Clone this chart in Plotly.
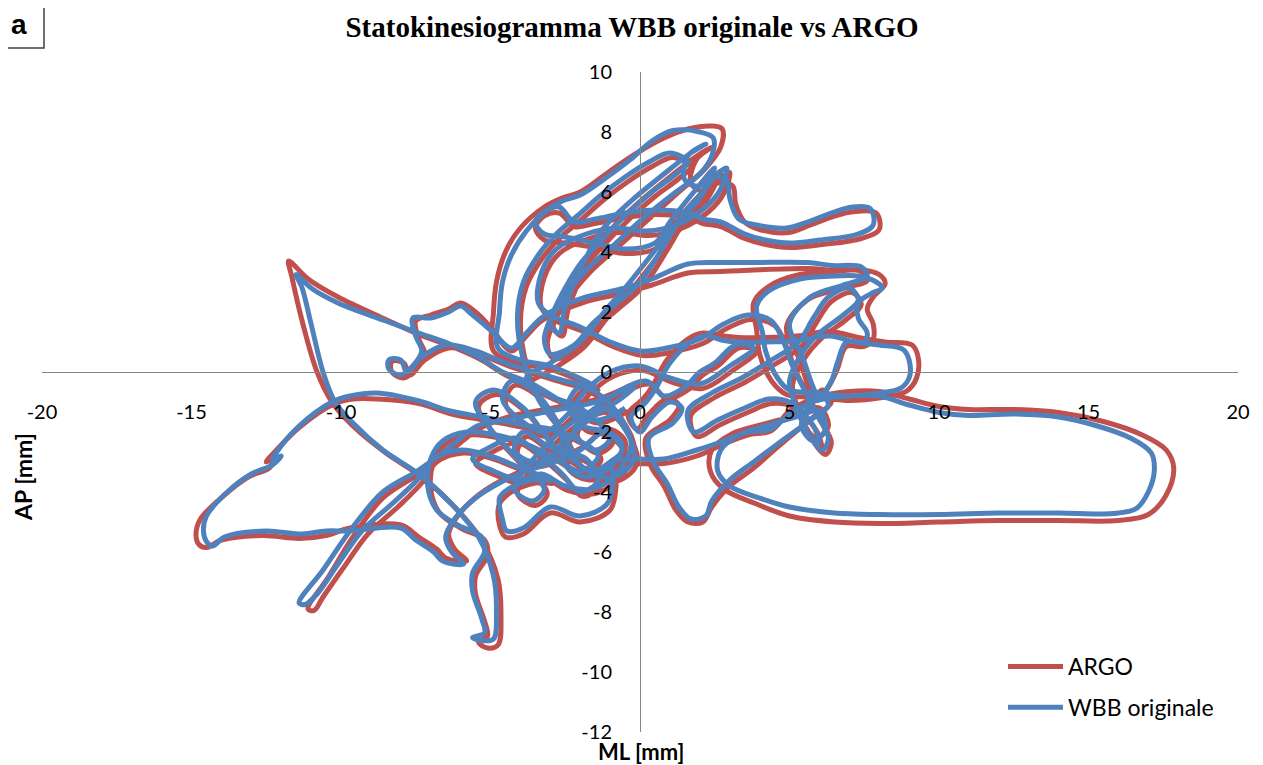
import plotly.graph_objects as go

# ---- data: ML (x) / AP (y) trajectories in mm ----
wbb_points = [
    (-0.5,-1.2),(-1.5,-1.6),(-2.6,-1.0),(-3.6,-0.4),(-4.6,0.0),(-5.4,0.5),(-6.4,0.95),(-7.4,1.3),(-8.5,1.7),(-10.1,2.3),
    (-11.0,2.8),(-11.5,3.25),(-11.3,2.8),(-11.0,1.6),(-10.6,0.0),(-10.2,-1.0),(-9.6,-1.7),(-8.6,-2.6),(-7.4,-3.4),(-6.3,-4.4),
    (-5.4,-5.5),(-4.9,-6.8),(-4.8,-8.0),(-4.9,-8.9),(-5.3,-8.95),(-5.6,-8.85),(-5.2,-8.7),(-5.3,-8.2),(-5.6,-7.3),(-5.6,-6.7),
    (-5.2,-6.0),(-5.3,-5.5),(-6.1,-5.1),(-6.8,-4.6),(-7.1,-3.8),(-7.0,-2.9),(-6.6,-2.3),(-5.8,-2.0),(-4.8,-2.1),(-3.8,-2.4),
    (-2.8,-2.9),(-2.0,-3.3),(-1.4,-2.8),(-2.2,-2.2),(-3.0,-1.9),(-3.7,-1.8),
    (-5.25,-1.5),(-6.35,-1.3),(-7.45,-0.95),(-8.8,-0.7),(-9.7,-0.8),(-10.3,-1.0),(-11.4,-1.8),(-12.1,-2.6),(-12.3,-2.95),(-12.0,-2.8),
    (-12.3,-3.1),(-13.0,-3.4),(-13.8,-4.0),(-14.5,-4.8),(-14.6,-5.3),(-14.5,-5.65),(-14.3,-5.8),(-13.9,-5.5),(-12.5,-5.3),(-11.4,-5.4),
    (-10.5,-5.3),(-9.7,-5.3),(-8.0,-5.2),(-7.5,-5.6),(-6.9,-6.0),(-6.6,-6.3),(-5.9,-6.4),(-6.3,-6.0),(-6.5,-5.5),(-6.2,-4.9),
    (-5.5,-4.2),(-4.7,-3.7),(-3.8,-3.3),(-2.9,-3.0),
    (-2.0,-2.6),(-1.2,-2.0),(-0.6,-2.4),(-0.9,-3.1),(-1.8,-3.5),(-2.5,-3.1),(-2.4,-2.3),(-1.6,-1.5),(-0.8,-1.0),(-0.2,-0.5),
    (-1.5,-1.0),(-3.0,-1.3),(-4.5,-1.6),(-5.45,-1.8),(-6.35,-2.5),(-7.45,-3.3),(-8.6,-4.0),(-9.7,-5.3),(-10.6,-6.6),(-11.4,-7.7),
    (-11.2,-7.75),(-10.8,-7.4),(-10.1,-6.4),(-9.3,-5.3),(-8.3,-4.4),(-7.45,-3.6),(-6.9,-2.9),(-6.0,-2.6),(-5.0,-2.8),(-4.0,-3.2),
    (-3.0,-3.6),
    (-3.6,-3.6),(-4.4,-3.9),(-4.7,-4.2),(-4.6,-4.9),(-4.45,-5.3),(-3.9,-5.2),(-3.0,-4.5),(-2.0,-4.8),(-1.1,-4.4),(-0.9,-3.7),
    (-0.9,-3.0),(-0.3,-2.9),(0.8,-2.9),(1.9,-2.6),(2.8,-2.3),(3.6,-2.0),(4.4,-1.9),
    (5.0,-1.4),(5.9,-0.95),(7.0,-0.8),(8.0,-0.8),(9.0,-1.1),(10.0,-1.35),(11.0,-1.45),(12.5,-1.4),(14.0,-1.5),(15.3,-1.8),
    (16.4,-2.2),(17.1,-2.7),(17.2,-3.3),(17.0,-4.0),(16.6,-4.55),(15.8,-4.72),(14.0,-4.7),(12.0,-4.7),(10.0,-4.75),(8.0,-4.75),
    (6.5,-4.7),(5.0,-4.5),(4.0,-4.2),(3.0,-3.8),(2.6,-3.3),(2.7,-2.6),(3.3,-2.1),(4.2,-1.8),(5.2,-1.5),(6.0,-1.3),
    (6.2,-1.9),(5.8,-2.3),(5.4,-1.8),(5.6,-1.2),(6.0,-0.7),(6.3,-1.1),(5.7,-1.6),
    (4.6,-2.4),(3.8,-3.0),(3.0,-3.6),(2.4,-4.3),(2.2,-4.8),(1.7,-4.9),(1.3,-4.5),(0.9,-3.7),(0.45,-3.0),(0.3,-2.2),
    (1.1,-1.7),(1.4,-1.2),(1.0,-1.0),(0.4,-1.5),(0.0,-2.0),(-0.3,-1.5),(0.2,-1.0),(0.5,-0.6),
    (1.0,0.3),(1.7,1.0),(2.2,1.2),(2.8,1.05),(3.3,1.0),(4.2,1.0),(5.25,1.05),(6.35,1.2),(7.2,1.0),(8.0,0.9),
    (8.8,0.75),(9.0,0.4),(9.0,-0.2),(8.7,-0.55),(8.0,-0.7),(7.0,-0.8),(6.0,-0.7),(5.0,-0.6),(4.6,-0.2),(4.2,0.7),
    (4.1,1.3),(3.9,2.2),(4.3,2.7),(5.35,3.1),(6.5,3.2),(7.3,3.2),(7.9,3.0),(8.1,2.8),(7.7,2.6),(7.3,2.3),
    (7.3,1.8),(7.6,1.3),(7.5,1.0),(6.9,1.0),(6.6,0.3),(6.4,-0.3),(6.0,-0.8),
    (5.4,0.6),(5.0,1.6),(5.7,2.5),(6.8,2.9),(7.6,3.2),(7.4,3.5),(6.4,3.55),(5.6,3.65),(3.8,3.65),(2.7,3.65),
    (1.6,3.6),(0.4,3.1),(-0.7,2.75),(-1.8,2.5),(-2.6,2.2),(-3.3,1.8),(-3.8,1.3),(-4.3,0.8),
    (-5.0,1.4),(-5.6,1.9),(-6.0,2.2),(-6.4,2.0),(-7.0,1.8),(-7.6,1.8),(-7.5,1.2),(-7.3,0.7),(-7.6,0.2),(-8.0,-0.1),
    (-8.4,0.1),(-8.4,0.4),(-8.0,0.4),(-7.8,0.0),(-7.3,0.5),(-6.5,0.9),(-5.5,0.7),(-4.5,0.3),(-3.5,0.0),(-2.5,-0.3),
    (-1.5,-0.5),
    (-3.0,0.2),(-4.0,0.4),(-4.75,0.8),(-4.7,2.0),(-4.6,3.0),(-4.3,3.9),(-3.8,4.7),(-3.1,5.4),(-2.6,5.7),(-2.0,5.9),
    (-1.1,6.5),(-0.3,7.1),(0.4,7.7),(1.1,8.05),(2.0,8.0),(2.45,7.8),(2.4,7.2),(2.0,6.6),(1.2,6.0),(0.2,5.2),
    (-0.8,4.3),(-1.8,3.4),(-2.6,2.4),(-3.0,1.6),(-2.7,1.3),(-2.5,2.2),(-1.9,3.6),(-1.3,4.7),(-0.3,5.7),(0.8,6.6),
    (1.7,7.3),(2.2,7.6),(1.6,7.2),(1.5,6.4),(2.0,6.2),(2.4,6.5),(2.9,6.4),(3.0,5.8),(3.3,5.1),(3.9,4.9),
    (4.9,4.8),(5.6,5.0),(6.4,5.3),(7.1,5.5),(7.7,5.45),(7.8,4.9),(7.3,4.6),(6.0,4.4),(5.0,4.3),(4.2,4.4),
    (3.5,4.6),(2.7,5.0),(2.1,5.1),(1.6,5.3),(0.5,5.4),(-0.5,5.3),(-1.5,5.1),(-2.2,5.0),(-2.7,5.5),(-3.1,5.4),
    (-3.5,5.0),(-3.2,4.6),(-2.5,4.5),(-1.5,4.3),(-0.5,4.1),(0.5,4.3),(1.0,5.0),(1.8,6.0),(2.5,6.8),(2.0,5.8),
    (1.0,4.7),(0.3,3.8),(-0.5,2.8),(-1.2,2.0),(-2.0,1.0),(-3.0,0.3),(-3.8,-0.2),
    (-3.0,-0.8),(-2.0,-1.2),(-1.0,-2.2),(-1.5,-2.6),(-2.2,-2.0),(-1.5,-1.2),(0.2,-0.3),(0.8,-0.8),(1.5,-0.5),(2.0,0.0),
    (2.5,0.3),(3.2,0.9),(3.8,0.8),
    (3.0,0.2),(2.0,-0.4),(1.0,-0.2),(0.0,0.2),(-1.0,0.0),(-1.8,-0.6),(-2.4,-1.4),(-3.2,-2.0),(-4.0,-1.6),(-4.6,-0.9),
    (-4.3,-0.3),(-3.6,-0.6),(-3.0,-1.3),(-2.6,-2.2),(-2.9,-2.8),(-3.6,-3.0),(-4.2,-2.6),(-3.9,-2.0),(-3.2,-2.4),(-2.3,-2.9),
    (-1.6,-3.3),(-1.0,-3.0),(-0.6,-2.6),(-1.1,-2.0),(-1.9,-1.8),(-2.4,-1.1),(-2.0,-0.5),(-1.3,-0.8),(-0.6,-1.6),(-0.3,-2.4),
    (-0.8,-3.4),(-1.6,-3.9),(-2.5,-3.8),(-3.3,-3.4),(-4.0,-3.6),(-4.9,-3.3),(-5.6,-2.9),(-5.0,-2.5),(-4.2,-2.2),(-3.4,-2.7),
    (-2.6,-3.4),(-2.0,-4.0),(-1.4,-3.6),(-1.8,-2.9),(-2.8,-2.5),(-3.9,-1.2),(-4.9,-0.6),(-5.5,-1.0),(-5.0,-1.9),(-4.1,-2.9),
    (-3.2,-3.9),(-3.6,-4.3),(-4.2,-3.9),(-3.8,-3.2),(-2.9,-2.2),(-2.0,-1.5),(-1.2,-1.2),(-0.5,-1.9),(-0.2,-2.9),(-0.9,-3.5),
    (-1.9,-3.2),(-2.6,-2.0),
    (-3.4,-0.9),(-3.9,0.4),(-4.1,1.8),(-3.9,3.0),(-3.4,3.9),(-2.8,4.6),(-2.1,5.2),(-1.3,5.9),(-0.5,6.5),(0.3,7.0),
    (1.0,7.3),(1.6,7.0),(1.2,6.6),(0.4,6.0),(-0.4,5.3),(-1.2,4.5),(-2.0,3.6),(-2.5,2.8),(-2.9,2.0),(-3.2,1.1),
    (-3.0,0.6),(-2.2,0.9),(-1.6,1.6),(-0.9,2.2),(0.0,3.0),(0.8,4.2),(1.4,5.2),(2.0,5.9),(2.6,6.6),(2.9,6.8),
    (2.7,6.1),(2.2,5.5),(1.2,4.9),(0.2,4.7),(-0.8,4.8),(-1.8,4.6),(-2.8,4.1),(-3.3,3.3),(-3.4,2.3),(-3.0,1.9),
    (-2.0,1.5),(-1.0,1.0),(0.0,0.7),(0.9,0.8),
    (2.0,1.1),(2.8,1.6),(3.6,1.9),(4.4,1.7),(4.8,1.0),(5.1,0.2),(5.5,-0.6),(5.9,-1.4),(6.3,-2.2),(6.1,-2.6),
    (5.6,-2.0),(5.2,-1.1),(5.0,-0.3),(5.4,0.6),(6.0,1.3),(6.8,1.9),(7.3,2.4),(7.0,2.8),(6.3,2.5),(5.8,1.8),
    (5.3,1.0),(4.4,0.4),(3.4,-0.2),(2.4,-0.7),(1.6,-1.3),(1.8,-2.0),(2.6,-1.6),(3.5,-1.2),(4.3,-0.9),(5.0,-1.0),
    (5.8,-1.8),(6.0,-2.4),
]

argo_points = [
    (-0.4,-1.3),(-1.4,-1.7),(-2.5,-1.1),(-3.5,-0.5),(-4.5,-0.1),(-5.3,0.4),(-6.3,0.85),(-7.4,1.25),(-8.5,1.75),(-10.1,2.5),
    (-11.1,3.1),(-11.75,3.7),(-11.65,3.2),(-11.3,1.7),(-10.8,0.0),(-10.3,-1.0),(-9.6,-1.8),(-8.5,-2.7),(-7.3,-3.5),(-6.2,-4.5),
    (-5.3,-5.6),(-4.75,-6.9),(-4.65,-8.1),(-4.75,-9.1),(-5.1,-9.2),(-5.4,-9.0),(-5.1,-8.8),(-5.2,-8.3),(-5.5,-7.4),(-5.5,-6.8),
    (-5.1,-6.1),(-5.2,-5.6),(-6.0,-5.2),(-6.7,-4.7),(-7.0,-3.9),(-6.9,-3.0),(-6.5,-2.4),(-5.7,-2.1),(-4.7,-2.2),(-3.7,-2.5),
    (-2.7,-3.0),(-1.9,-3.4),(-1.3,-2.9),(-2.1,-2.3),(-2.9,-2.0),(-3.6,-1.9),
    (-5.2,-1.6),(-6.3,-1.4),(-7.4,-1.05),(-8.8,-0.9),(-9.6,-0.9),(-10.2,-1.05),(-11.4,-1.85),(-12.2,-2.65),(-12.5,-3.0),(-12.2,-2.9),
    (-12.4,-3.2),(-13.1,-3.5),(-13.9,-4.1),(-14.7,-4.9),(-14.85,-5.4),(-14.75,-5.75),(-14.5,-5.85),(-14.0,-5.6),(-12.6,-5.45),(-11.4,-5.55),
    (-10.5,-5.45),(-9.7,-5.2),(-8.0,-5.1),(-7.4,-5.5),(-6.8,-5.9),(-6.5,-6.2),(-5.8,-6.3),(-6.2,-5.9),(-6.4,-5.4),(-6.1,-4.8),
    (-5.4,-4.1),(-4.6,-3.6),(-3.7,-3.2),(-2.8,-2.9),
    (-1.9,-2.5),(-1.1,-1.9),(-0.5,-2.3),(-0.8,-3.2),(-1.7,-3.6),(-2.4,-3.2),(-2.3,-2.2),(-1.5,-1.4),(-0.7,-0.9),(-0.1,-0.4),
    (-1.4,-0.9),(-2.9,-1.2),(-4.4,-1.5),(-5.4,-1.9),(-6.3,-2.6),(-7.4,-3.4),(-8.6,-4.2),(-9.6,-5.5),(-10.4,-6.8),(-11.1,-7.9),
    (-10.9,-7.95),(-10.6,-7.5),(-9.9,-6.5),(-9.1,-5.4),(-8.1,-4.5),(-7.3,-3.7),(-6.8,-3.0),(-5.9,-2.7),(-4.9,-2.9),(-3.9,-3.3),
    (-2.9,-3.7),
    (-3.5,-3.7),(-4.3,-4.0),(-4.7,-4.4),(-4.7,-5.1),(-4.5,-5.5),(-3.9,-5.4),(-3.0,-4.7),(-2.0,-5.0),(-1.0,-4.6),(-0.8,-3.8),
    (-0.8,-3.1),(-0.2,-3.05),(0.8,-3.05),(1.9,-2.8),(2.8,-2.4),(3.6,-2.1),(4.4,-1.95),
    (5.0,-1.3),(5.9,-0.85),(7.0,-0.65),(8.0,-0.65),(9.0,-0.9),(10.0,-1.15),(11.0,-1.25),(12.5,-1.25),(14.0,-1.35),(15.5,-1.65),
    (16.8,-2.1),(17.6,-2.6),(17.85,-3.2),(17.6,-4.1),(17.0,-4.75),(16.0,-4.95),(14.0,-4.95),(12.0,-4.95),(10.0,-5.0),(8.0,-5.05),
    (6.5,-5.0),(5.0,-4.8),(3.9,-4.4),(2.8,-3.9),(2.35,-3.3),(2.4,-2.6),(3.1,-2.05),(4.1,-1.75),(5.2,-1.45),(6.0,-1.2),
    (6.3,-1.8),(5.9,-2.2),(5.5,-1.7),(5.7,-1.1),(6.1,-0.6),(6.4,-1.0),(5.8,-1.5),
    (4.6,-2.5),(3.8,-3.2),(3.0,-3.8),(2.4,-4.5),(2.1,-5.0),(1.6,-5.0),(1.2,-4.6),(0.8,-3.8),(0.35,-3.1),(0.2,-2.2),
    (1.0,-1.6),(1.3,-1.1),(0.9,-0.9),(0.3,-1.4),(-0.1,-1.9),(-0.4,-1.4),(0.1,-0.9),(0.4,-0.5),
    (0.9,0.4),(1.6,1.1),(2.1,1.3),(2.8,1.2),(3.3,1.15),(4.2,1.15),(5.25,1.2),(6.35,1.35),(7.3,1.15),(8.2,1.0),
    (9.1,0.9),(9.3,0.5),(9.25,-0.2),(8.9,-0.65),(8.1,-0.85),(7.0,-0.95),(6.0,-0.85),(4.9,-0.75),(4.4,-0.3),(4.0,0.6),
    (3.9,1.4),(3.8,2.3),(4.3,2.85),(5.35,3.25),(6.5,3.35),(7.4,3.4),(8.0,3.25),(8.2,2.95),(7.8,2.5),(7.6,2.1),
    (7.8,1.6),(7.8,1.1),(7.5,0.85),(6.9,0.85),(6.6,0.1),(6.3,-0.5),(5.9,-0.95),
    (5.3,0.5),(4.9,1.5),(5.6,2.4),(6.8,2.8),(7.6,3.05),(7.4,3.35),(6.4,3.4),(5.6,3.45),(3.8,3.4),(2.7,3.35),
    (1.6,3.3),(0.4,2.9),(-0.7,2.6),(-1.8,2.35),(-2.6,2.05),(-3.3,1.7),(-3.8,1.2),(-4.3,0.7),
    (-5.0,1.5),(-5.5,2.0),(-6.0,2.3),(-6.4,2.1),(-7.0,1.9),(-7.5,1.7),(-7.4,1.1),(-7.2,0.6),(-7.5,0.1),(-7.9,-0.2),
    (-8.3,0.0),(-8.3,0.35),(-7.9,0.3),(-7.7,-0.1),(-7.2,0.4),(-6.4,0.8),(-5.4,0.6),(-4.4,0.2),(-3.4,-0.1),(-2.4,-0.4),
    (-1.4,-0.6),
    (-3.0,0.1),(-4.1,0.3),(-4.9,0.7),(-4.9,2.0),(-4.8,3.0),(-4.5,4.0),(-4.0,4.8),(-3.2,5.5),(-2.6,5.8),(-2.0,6.0),
    (-1.0,6.7),(-0.1,7.3),(0.8,7.8),(1.6,8.1),(2.4,8.2),(2.75,8.1),(2.7,7.5),(2.2,6.8),(1.3,6.0),(0.3,5.1),
    (-0.7,4.2),(-1.7,3.3),(-2.5,2.3),(-2.9,1.5),(-2.6,1.2),(-2.4,2.1),(-1.8,3.5),(-1.1,4.6),(-0.1,5.6),(1.0,6.5),
    (1.9,7.2),(2.4,7.5),(1.9,7.1),(1.7,6.3),(2.2,6.0),(2.6,6.3),(3.1,6.2),(3.2,5.6),(3.5,5.0),(4.0,4.75),
    (5.0,4.65),(5.7,4.9),(6.5,5.2),(7.2,5.35),(7.9,5.3),(8.0,4.75),(7.4,4.45),(6.1,4.25),(5.0,4.15),(4.2,4.25),
    (3.5,4.45),(2.7,4.85),(2.1,4.95),(1.6,5.15),(0.5,5.25),(-0.5,5.15),(-1.5,4.95),(-2.2,4.85),(-2.7,5.3),(-3.2,5.2),
    (-3.5,4.8),(-3.2,4.4),(-2.5,4.3),(-1.5,4.15),(-0.5,3.95),(0.6,4.15),(1.1,4.9),(2.0,5.9),(2.7,6.7),(2.2,5.7),
    (1.1,4.5),(0.4,3.6),(-0.4,2.6),(-1.1,1.8),(-1.9,0.8),(-2.9,0.1),(-3.7,-0.4),
    (-2.9,-0.9),(-1.9,-1.3),(-0.9,-2.3),(-1.4,-2.7),(-2.1,-2.1),(-1.4,-1.3),(0.3,-0.4),(0.9,-0.9),(1.6,-0.6),(2.1,-0.1),
    (2.6,0.2),(3.3,0.8),(3.9,0.7),
    (3.1,0.05),(2.1,-0.55),(1.1,-0.35),(0.1,0.05),(-0.9,-0.15),(-1.7,-0.75),(-2.3,-1.55),(-3.1,-2.15),(-3.9,-1.75),(-4.5,-1.05),
    (-4.2,-0.45),(-3.5,-0.75),(-2.9,-1.45),(-2.5,-2.35),(-2.8,-2.95),(-3.5,-3.15),(-4.1,-2.75),(-3.8,-2.15),(-3.1,-2.55),(-2.2,-3.05),
    (-1.5,-3.45),(-0.9,-3.15),(-0.5,-2.75),(-1.0,-2.15),(-1.8,-1.95),(-2.3,-1.25),(-1.9,-0.65),(-1.2,-0.95),(-0.5,-1.75),(-0.2,-2.55),
    (-0.7,-3.55),(-1.5,-4.05),(-2.4,-3.95),(-3.2,-3.55),(-3.9,-3.75),(-4.8,-3.45),(-5.5,-3.05),(-4.9,-2.65),(-4.1,-2.35),(-3.3,-2.85),
    (-2.5,-3.55),(-1.9,-4.15),(-1.3,-3.75),(-1.7,-3.05),(-2.7,-2.65),(-3.8,-1.35),(-4.8,-0.75),(-5.4,-1.15),(-4.9,-2.05),(-4.0,-3.05),
    (-3.1,-4.05),(-3.5,-4.45),(-4.1,-4.05),(-3.7,-3.35),(-2.8,-2.35),(-1.9,-1.65),(-1.1,-1.35),(-0.4,-2.05),(-0.1,-3.05),(-0.8,-3.65),
    (-1.8,-3.35),(-2.5,-2.15),
    (-3.3,-1.05),(-3.8,0.25),(-4.0,1.65),(-3.8,2.85),(-3.3,3.75),(-2.7,4.45),(-2.0,5.05),(-1.2,5.75),(-0.4,6.35),(0.4,6.85),
    (1.1,7.15),(1.7,6.85),(1.3,6.45),(0.5,5.85),(-0.3,5.15),(-1.1,4.35),(-1.9,3.45),(-2.4,2.65),(-2.8,1.85),(-3.1,0.95),
    (-2.9,0.45),(-2.1,0.75),(-1.5,1.45),(-0.8,2.05),(0.1,2.85),(0.9,4.05),(1.5,5.05),(2.1,5.75),(2.7,6.45),(3.0,6.65),
    (2.8,5.95),(2.3,5.35),(1.3,4.75),(0.3,4.55),(-0.7,4.65),(-1.7,4.45),(-2.7,3.95),(-3.2,3.15),(-3.3,2.15),(-2.9,1.75),
    (-1.9,1.35),(-0.9,0.85),(0.1,0.55),(1.0,0.65),
    (2.1,0.95),(2.9,1.45),(3.7,1.75),(4.5,1.55),(4.9,0.85),(5.2,0.05),(5.6,-0.75),(6.0,-1.55),(6.4,-2.35),(6.2,-2.75),
    (5.7,-2.15),(5.3,-1.25),(5.1,-0.45),(5.5,0.45),(6.1,1.15),(6.9,1.75),(7.4,2.25),(7.1,2.65),(6.4,2.35),(5.9,1.65),
    (5.4,0.85),(4.5,0.25),(3.5,-0.35),(2.5,-0.85),(1.7,-1.45),(1.9,-2.15),(2.7,-1.75),(3.6,-1.35),(4.4,-1.05),(5.1,-1.15),
    (5.9,-1.95),(6.1,-2.55),
]

series_names = ["ARGO", "WBB originale"]
series_colors = ["#C0504D", "#4F81BD"]
x_ticks = [-20, -15, -10, -5, 0, 5, 10, 15, 20]
x_tick_text = ["-20", "-15", "-10", "-5", "0", "5", "10", "15", "20"]
y_ticks = [-12, -10, -8, -6, -4, -2, 0, 2, 4, 6, 8, 10]
y_tick_text = ["-12", "-10", "-8", "-6", "-4", "-2", "0", "2", "4", "6", "8", "10"]

title_text = "Statokinesiogramma WBB originale vs ARGO"
x_title = "ML [mm]"
y_title = "AP [mm]"

FONT = "Lato, 'Open Sans', sans-serif"

# page body has an 8px margin: figure is sized/offset so the plot lands where the reference has it
W, H = 1255, 757
OFF = 8
PL, PR, PT, PB = 42, 1238, 72, 732          # plot area in window pixels


def px(xw):
    return (xw - PL) / (PR - PL)


def py(yw):
    return (PB - yw) / (PB - PT)


fig = go.Figure()
for name, color, pts in zip(series_names, series_colors, [argo_points, wbb_points]):
    fig.add_trace(go.Scatter(
        x=[p[0] for p in pts], y=[p[1] for p in pts],
        mode="lines", name=name, legendgroup=name,
        line=dict(color=color, width=5, shape="spline", smoothing=1.0),
        hoverinfo="skip",
    ))

axis_common = dict(
    showgrid=False, zeroline=False, showline=True, linecolor="#868686", linewidth=1,
    ticks="", tickfont=dict(family=FONT, size=20, color="black"),
)

fig.update_layout(
    width=W, height=H,
    paper_bgcolor="white", plot_bgcolor="white",
    margin=dict(l=PL - OFF, r=W + OFF - PR, t=PT - OFF, b=H + OFF - PB),
    title=dict(text="<b>" + title_text + "</b>", x=(632 - OFF) / W, xref="container", xanchor="center",
               y=1 - (27 - OFF) / H, yref="container", yanchor="middle",
               font=dict(family="'Liberation Serif', 'Times New Roman', serif", size=29, color="black")),
    xaxis=dict(range=[-20, 20], tickvals=x_ticks, ticktext=x_tick_text, anchor="free", position=12 / 22,
               ticklabelstandoff=22, **axis_common),
    yaxis=dict(range=[-12, 10], tickvals=y_ticks, ticktext=y_tick_text, anchor="free", position=0.5,
               ticklabelstandoff=24, **axis_common),
    showlegend=True,
    legend=dict(x=px(1003), y=py(645), xanchor="left", yanchor="top",
                font=dict(family=FONT, size=23, color="black"),
                bgcolor="rgba(0,0,0,0)", itemwidth=55, tracegroupgap=8,
                traceorder="grouped"),
    annotations=[
        dict(text="<b>" + x_title + "</b>", xref="paper", yref="paper",
             x=px(641), y=py(751), xanchor="center", yanchor="middle",
             showarrow=False, font=dict(family=FONT, size=22, color="black")),
        dict(text="<b>" + y_title + "</b>", xref="paper", yref="paper", textangle=-90,
             x=px(23), y=py(477), xanchor="center", yanchor="middle",
             showarrow=False, font=dict(family=FONT, size=23, color="black")),
        dict(text="<b>a</b>", xref="paper", yref="paper",
             x=px(19), y=py(25), xanchor="center", yanchor="middle",
             showarrow=False, font=dict(family="'Liberation Sans', Arial, sans-serif", size=28, color="black")),
    ],
    shapes=[
        dict(type="rect", xref="paper", yref="paper",
             x0=px(-4), x1=px(44), y0=py(48), y1=py(-4),
             line=dict(color="#404040", width=1.5), fillcolor="rgba(0,0,0,0)"),
    ],
)

fig.write_html("out.html", config={"displayModeBar": False})
